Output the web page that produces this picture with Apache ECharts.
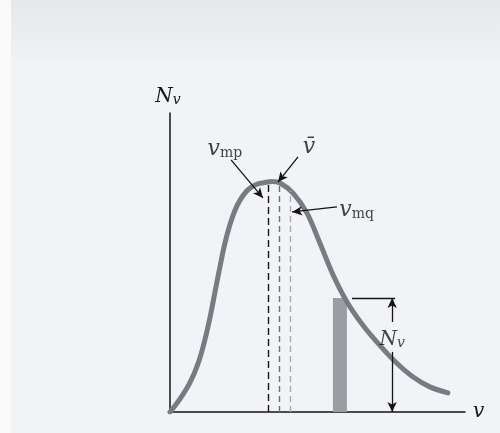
<!DOCTYPE html>
<html>
<head>
<meta charset="utf-8">
<script src="https://cdn.jsdelivr.net/npm/echarts@6.0.0/dist/echarts.min.js"></script>
<style>
  html, body { margin: 0; padding: 0; background: #f1f3f6; }
  #chart { width: 500px; height: 433px; }
</style>
</head>
<body>
<div id="chart"></div>
<script>
// Maxwell speed distribution: N_v (molecules per speed interval) against speed v
const speed = [0, 3.4, 6.8, 9.5, 11.5, 13.6, 15.3, 17.0, 18.6, 20.3, 22.0, 23.7, 26.4, 29.2, 31.9, 34.6, 37.3, 41.7, 46.4, 50.8, 55.3, 60, 65.4, 71.2, 77.0, 82.4, 88.1, 94.2];
const count = [0, 4.4, 9.9, 16.2, 22.9, 31.8, 40.4, 48.9, 56.4, 62.6, 67.4, 70.8, 74.3, 76.1, 76.7, 77.1, 76.6, 73.2, 66.6, 56.5, 45.8, 36.8, 29.0, 22.2, 16.2, 11.7, 8.4, 6.4];

// characteristic speeds: most probable, mean, root mean square
const markerSpeeds = [33.2, 36.9, 40.7];
const markerHeights = [76.9, 76.7, 74.0];

// one narrow speed interval in the tail, with its height N_v
const stripSpeed = 57.6;
const stripCount = 38.1;

// label anchors and the pointer arrows (tail -> head) in data units
const labelPos = { mp: [18.6, 89.0], mean: [47.1, 89.4], mq: [57.4, 68.4], nv: [75.3, 25.1] };
const pointerArrows = [
  [[20.7, 84.3], [31.5, 71.6]],
  [[43.4, 85.3], [36.6, 76.9]],
  [[56.6, 68.6], [41.4, 66.9]]
];
const dimX = 75.3;             // speed where the N_v dimension arrow stands
const dimTick = [61.7, 76.3];  // extent of the horizontal tick at the strip height
const dimGap = [30.1, 20.1];   // the vertical arrow breaks around its label

const serif = '"DejaVu Serif", "Liberation Serif", serif';
const ink = '#141414';

const dashColors = ['#141414', '#6f7075', '#a9abb0'];
const dashTypes = [[7, 4], [6, 4], [6, 4]];
const dashLines = markerSpeeds.map((s, i) => [
  { coord: [s, 0], symbol: 'none', lineStyle: { color: dashColors[i], width: 1.4, type: dashTypes[i] } },
  { coord: [s, markerHeights[i]], symbol: 'none' }
]);

const arrowLines = pointerArrows.map(a => [
  { coord: a[0], symbol: 'none' },
  { coord: a[1], symbol: 'arrow' }
]);

const dimLines = [
  [{ coord: [dimTick[0], stripCount], symbol: 'none' }, { coord: [dimTick[1], stripCount], symbol: 'none' }],
  [{ coord: [dimX, dimGap[0]], symbol: 'none' }, { coord: [dimX, stripCount], symbol: 'arrow' }],
  [{ coord: [dimX, dimGap[1]], symbol: 'none' }, { coord: [dimX, 0], symbol: 'arrow' }]
];

const mathRich = {
  v: { fontFamily: serif, fontStyle: 'italic', fontSize: 22, color: ink, verticalAlign: 'bottom', lineHeight: 28 },
  s: { fontFamily: serif, fontSize: 14, color: ink, verticalAlign: 'bottom', lineHeight: 16 },
  n: { fontFamily: serif, fontStyle: 'italic', fontSize: 20, color: ink, verticalAlign: 'bottom', lineHeight: 26 },
  si: { fontFamily: serif, fontStyle: 'italic', fontSize: 14, color: ink, verticalAlign: 'bottom', lineHeight: 16 }
};

const labelText = {
  mp: '{v|v}{s|mp}',
  mean: '{v|v\u0304}',
  mq: '{v|v}{s|mq}',
  nv: '{n|N}{si|v}'
};

const chart = echarts.init(document.getElementById('chart'), null, { renderer: 'canvas' });

chart.setOption({
  backgroundColor: 'transparent',
  animation: false,
  graphic: [
    { type: 'rect', left: 0, top: 0, shape: { width: 500, height: 62 },
      style: { fill: new echarts.graphic.LinearGradient(0, 0, 0, 1, [
        { offset: 0, color: '#e6e8ec' }, { offset: 1, color: '#eff1f4' }]) }, z: -10 },
    { type: 'rect', left: 0, top: 0, shape: { width: 11, height: 433 },
      style: { fill: '#fafafa' }, z: -9 }
  ],
  grid: { left: 170, right: 35, top: 113, bottom: 21 },
  xAxis: {
    type: 'value', min: 0, max: 100,
    name: 'v', nameLocation: 'end', nameGap: 8,
    nameTextStyle: { fontFamily: serif, fontStyle: 'italic', fontSize: 20, color: ink, verticalAlign: 'middle', padding: [0, 0, 4, 0] },
    axisLine: { show: true, lineStyle: { color: ink, width: 1.5 } },
    axisTick: { show: false }, axisLabel: { show: false }, splitLine: { show: false }
  },
  yAxis: {
    type: 'value', min: 0, max: 100,
    name: '{n|N}{si|v}', nameLocation: 'end', nameGap: 6,
    nameTextStyle: { align: 'center', padding: [0, 4, 0, 0], rich: mathRich },
    axisLine: { show: true, lineStyle: { color: ink, width: 1.5 } },
    axisTick: { show: false }, axisLabel: { show: false }, splitLine: { show: false }
  },
  series: [
    {
      type: 'bar', name: 'interval',
      data: [[stripSpeed, stripCount]],
      barWidth: 14,
      itemStyle: { color: '#9c9da2' },
      z: 2
    },
    {
      type: 'line', name: 'distribution',
      data: speed.map((s, i) => [s, count[i]]),
      smooth: 0.35, showSymbol: false,
      lineStyle: { color: '#7a7b82', width: 5, cap: 'round' },
      z: 4
    },
    {
      type: 'scatter', name: 'guides',
      data: [],
      silent: true,
      markLine: {
        silent: true, symbolSize: [7, 10], animation: false,
        label: { show: false },
        lineStyle: { color: ink, width: 1.3, type: 'solid' },
        data: dashLines
      },
      z: 1
    },
    {
      type: 'scatter', name: 'annotations',
      symbolSize: 0,
      data: Object.keys(labelPos).map(k => ({
        value: labelPos[k], name: k,
        label: { position: k === 'mq' ? 'right' : 'inside', distance: 0 }
      })),
      label: {
        show: true,
        formatter: p => labelText[p.name],
        rich: mathRich
      },
      markLine: {
        silent: true, symbolSize: [7, 10], animation: false,
        label: { show: false },
        lineStyle: { color: ink, width: 1.3, type: 'solid' },
        data: arrowLines.concat(dimLines)
      },
      z: 5
    }
  ]
});
</script>
</body>
</html>
